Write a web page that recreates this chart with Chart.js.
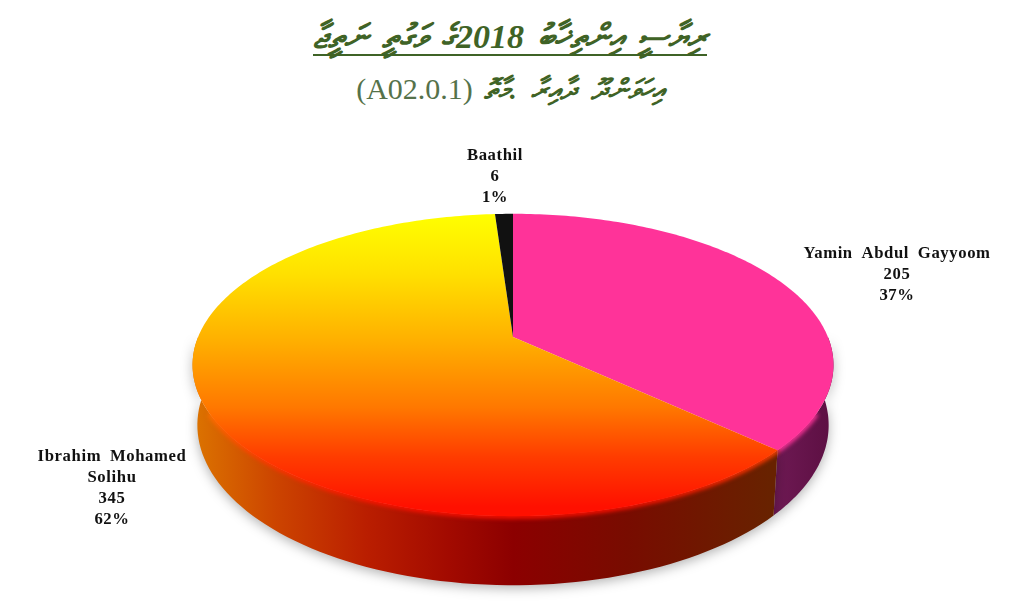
<!DOCTYPE html>
<html>
<head>
<meta charset="utf-8">
<title>Result</title>
<script src="https://cdn.jsdelivr.net/npm/chart.js@4"></script>
<style>
  html, body { margin: 0; padding: 0; background: #fff; }
  #wrap { position: relative; width: 1024px; height: 616px; overflow: hidden; }
  canvas { position: absolute; left: 0; top: 0; }
  .t { position: absolute; left: -2px; width: 1024px; text-align: center; color: #3f6326; font-family: "Liberation Serif", serif; white-space: nowrap; }
  #t1 { top: 18px; font-size: 34px; font-style: italic; font-weight: bold; word-spacing: 5.5px;
        text-decoration: underline; text-decoration-thickness: 2px; text-underline-offset: 6px; text-decoration-skip-ink: none; }
  #t2 { top: 72px; font-size: 30px; color: #55724a; }
  #t2 b { font-size: 28px; font-style: italic; color: #3f6326; word-spacing: 7px; margin-left: 11px; }
</style>
</head>
<body>
<div id="wrap">
  <div class="t" id="t1" dir="rtl">ރިޔާސީ އިންތިޚާބު 2018ގެ ވަގުތީ ނަތީޖާ</div>
  <div class="t" id="t2" dir="rtl"><b>އިހަވަންދޫ ދާއިރާ .މާތޮ</b>(A02.0.1)</div>
  <canvas id="chart" width="1024" height="616"></canvas>
</div>
<script>
const categories = ['Yamin Abdul Gayyoom', 'Ibrahim Mohamed Solihu', 'Baathil'];
const votes = [205, 345, 6];
const percents = ['37%', '62%', '1%'];

// perspective of the top face, fitted to the reference ellipse
const persp = 0.185, stretchX = 2.157;
// bottom rim of the drum relative to the top face
const rimScaleX = 0.985, rimScaleY = 1.059, rimShift = 58.5;

function project(el, ang, rim) {
  const u = Math.cos(ang), v = Math.sin(ang), w = 1 - persp * v;
  const r = el.outerRadius;
  const dx = stretchX * r * u / w, dy = r * v / w;
  if (!rim) return [el.x + dx, el.y + dy];
  return [el.x + dx * rimScaleX, el.y + dy * rimScaleY + rimShift];
}

function topGradient(ctx) {
  const g = ctx.createLinearGradient(0, 214, 0, 516);
  g.addColorStop(0, '#ffff00');
  g.addColorStop(0.2, '#ffe000');
  g.addColorStop(0.417, '#ffb000');
  g.addColorStop(0.64, '#ff7800');
  g.addColorStop(0.805, '#ff3c00');
  g.addColorStop(0.97, '#ff1000');
  return g;
}

function wallGradient(ctx, i) {
  const g = ctx.createLinearGradient(193, 0, 833, 0);
  if (i === 0) {
    g.addColorStop(0.9, '#701a55');
    g.addColorStop(1, '#5c0f42');
  } else {
    g.addColorStop(0, '#dc7400');
    g.addColorStop(0.13, '#cc4400');
    g.addColorStop(0.27, '#ba1e00');
    g.addColorStop(0.4, '#a20a00');
    g.addColorStop(0.5, '#8c0000');
    g.addColorStop(0.68, '#780c00');
    g.addColorStop(0.9, '#682200');
  }
  return g;
}

function tracePath(ctx, pts) {
  pts.forEach((p, k) => k ? ctx.lineTo(p[0], p[1]) : ctx.moveTo(p[0], p[1]));
}

const pie3d = {
  id: 'pie3d',
  beforeDatasetDraw(chart) {
    const ctx = chart.ctx;
    const arcs = chart.getDatasetMeta(0).data;
    ctx.save();
    // front wall of each slice, with a soft shadow under it
    arcs.forEach((el, i) => {
      const a0 = Math.max(el.startAngle, 0), a1 = Math.min(el.endAngle, Math.PI);
      if (a1 <= a0) return;
      const top = [], rim = [];
      for (let k = 0; k <= 80; k++) {
        const a = a0 + (a1 - a0) * k / 80;
        top.push(project(el, a));
        rim.push(project(el, a, true));
      }
      ctx.beginPath();
      tracePath(ctx, top.concat(rim.reverse()));
      ctx.closePath();
      ctx.shadowColor = 'rgba(0,0,0,0.3)';
      ctx.shadowBlur = 12;
      ctx.shadowOffsetX = 0;
      ctx.shadowOffsetY = 3;
      ctx.fillStyle = wallGradient(ctx, i);
      ctx.fill();
    });
    ctx.shadowColor = 'transparent';
    // top face
    const fills = ['#ff3399', topGradient(ctx), '#111111'];
    // soft lip where the top face turns into the wall
    ctx.filter = 'blur(2px)';
    ctx.lineWidth = 5;
    arcs.forEach((el, i) => {
      const a0 = Math.max(el.startAngle, 0.5), a1 = Math.min(el.endAngle, Math.PI - 0.5);
      if (a1 <= a0) return;
      const lip = [];
      for (let k = 0; k <= 80; k++) lip.push(project(el, a0 + (a1 - a0) * k / 80));
      ctx.beginPath();
      tracePath(ctx, lip);
      ctx.strokeStyle = fills[i];
      ctx.stroke();
    });
    ctx.filter = 'none';
    arcs.forEach((el, i) => {
      const n = Math.ceil((el.endAngle - el.startAngle) * 60);
      const pts = [[el.x, el.y]];
      for (let k = 0; k <= n; k++) pts.push(project(el, el.startAngle + (el.endAngle - el.startAngle) * k / n));
      ctx.beginPath();
      tracePath(ctx, pts);
      ctx.closePath();
      ctx.fillStyle = fills[i];
      ctx.fill();
    });
    ctx.restore();
    return false;
  },
  afterDatasetsDraw(chart) {
    const ctx = chart.ctx;
    ctx.save();
    ctx.font = 'bold 16.7px "Liberation Serif", serif';
    ctx.fillStyle = '#111111';
    ctx.textAlign = 'center';
    ctx.textBaseline = 'alphabetic';
    ctx.letterSpacing = '0.6px';
    ctx.wordSpacing = '4px';
    const blocks = [
      { x: 897, y: 258, lines: [categories[0], votes[0], percents[0]], lh: 21 },
      { x: 112, y: 461, lines: ['Ibrahim Mohamed', 'Solihu', votes[1], percents[1]], lh: 21 },
      { x: 495, y: 160, lines: [categories[2], votes[2], percents[2]], lh: 21 }
    ];
    blocks.forEach(b => b.lines.forEach((s, i) => ctx.fillText(String(s), b.x, b.y + i * b.lh)));
    ctx.restore();
  }
};

new Chart(document.getElementById('chart'), {
  type: 'pie',
  data: {
    labels: categories,
    datasets: [{ data: votes, borderWidth: 0 }]
  },
  options: {
    responsive: false,
    animation: false,
    layout: { padding: { top: 191, bottom: 133, left: 2, right: 0 } },
    plugins: { legend: { display: false }, tooltip: { enabled: false } }
  },
  plugins: [pie3d]
});
</script>
</body>
</html>
